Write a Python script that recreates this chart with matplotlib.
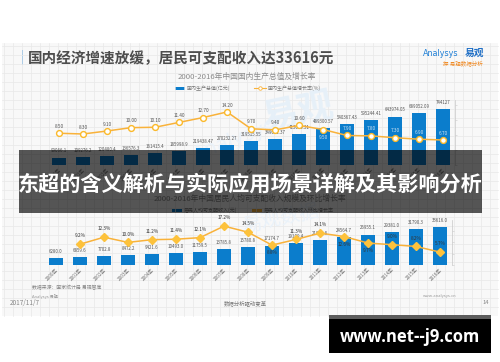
import matplotlib.pyplot as plt
from matplotlib.patches import Rectangle
import numpy as np

W, H = 500, 362
CJK = ['Noto Sans CJK SC', 'DejaVu Sans']
plt.rcParams['font.family'] = CJK

# data
years = [f'{y}年' for y in range(2000, 2017)]
gdp = [99066.1, 109276.2, 120480.4, 136576.3, 161415.4, 185998.9, 219438.47,
       270232.27, 319515.55, 349081.37, 413030.31, 489300.57, 540367.43,
       595244.41, 643974.05, 689052.09, 744127]
gdp_rate = [8.5, 8.3, 9.1, 10.0, 10.1, 11.4, 12.7, 14.2, 9.7, 9.4, 10.6,
            9.5, 7.9, 7.8, 7.3, 6.9, 6.7]
income = [6280.0, 6859.6, 7702.8, 8472.2, 9421.6, 10493.0, 11759.5, 13785.8,
          15780.8, 17174.7, 19109.4, 21809.8, 24564.7, 26955.1, 29381.0,
          31790.3, 33616.0]
income_rate = [9.2, 12.3, 10.0, 11.2, 11.4, 12.1, 17.2, 14.5, 8.8, 11.3,
               14.1, 12.6, 9.7, 9.0, 8.2, 5.7]  # 2001-2016

BLUE = '#0b7dcc'
ORANGE = '#f9b23a'

fig = plt.figure(figsize=(W / 100, H / 100), dpi=100)


def px_axes(x0, y0, x1, y1, z=1):
    ax = fig.add_axes([x0 / W, 1 - y1 / H, (x1 - x0) / W, (y1 - y0) / H], zorder=z)
    ax.patch.set_alpha(0)
    return ax


def pix_layer(z):
    ax = px_axes(0, 0, W, H, z)
    ax.set_xlim(0, W)
    ax.set_ylim(H, 0)
    ax.axis('off')
    return ax


# slide background with grid
bg = pix_layer(0)
bg.add_patch(Rectangle((2, 43), 496, 273, color='#f8f8f8', lw=0))
for gx in np.arange(4, 498, 9):
    bg.plot([gx, gx], [43, 316], color='#e8e8e8', lw=0.5)
for gy in np.arange(46, 316, 9):
    bg.plot([2, 498], [gy, gy], color='#e8e8e8', lw=0.5)

bg.add_patch(Rectangle((21.5, 50), 1.6, 15, color='#2a8ee0', lw=0))
bg.text(28, 58, '国内经济增速放缓，居民可支配收入达33616元', fontsize=10.5,
        fontweight='bold', color='#4d4d4d', va='center', ha='left')
bg.text(423, 53, 'Analysys', fontsize=5.8, color='#1f7fd6', va='center', family='DejaVu Sans')
bg.text(465, 53, '易观', fontsize=7, color='#1f6fc6', fontweight='bold', va='center')
bg.text(483, 63, '探 易观数据分析', fontsize=4, color='#f08a24', va='center', ha='right')

# faint watermarks
bg.text(258, 112, '易观', fontsize=26, color='#e6f0f9', rotation=12, va='center', fontweight='bold')
bg.text(190, 140, 'Analysys', fontsize=14, color='#eaf2fa', rotation=20, va='center',
        family='DejaVu Sans')
bg.text(240, 218, '易观数据', fontsize=14, color='#eaf2fa', rotation=12, va='center')

# chart titles and legends
bg.text(247, 77, '2000-2016年中国国内生产总值及增长率', fontsize=5.6, color='#8a8a8a',
        ha='center', va='center')
bg.add_patch(Rectangle((175, 86.5), 10, 3, color=BLUE, lw=0))
bg.text(187, 88, '国内生产总值(亿元)', fontsize=3.6, color='#777', va='center')
bg.plot([254, 266], [88, 88], color=ORANGE, lw=0.8)
bg.plot([260], [88], 'o', ms=2.5, mfc='white', mec=ORANGE, mew=0.6)
bg.text(268, 88, '国内生产总值增长率(%)', fontsize=3.6, color='#777', va='center')

bg.text(250, 199, '2000-2016年中国居民人均可支配收入规模及环比增长率', fontsize=5.6,
        color='#8a8a8a', ha='center', va='center')
bg.add_patch(Rectangle((172, 209), 10, 3, color=BLUE, lw=0))
bg.text(184, 210.5, '居民人均可支配收入(元)', fontsize=3.6, color='#777', va='center')
bg.add_patch(Rectangle((252, 209), 10, 3, color=ORANGE, lw=0))
bg.text(264, 210.5, '居民人均可支配收入环比增长率', fontsize=3.6, color='#777', va='center')

# footer
bg.text(32, 288, '数据来源：国家统计局 易观智库', fontsize=3.5, color='#888', va='center')
bg.text(32, 297, 'Analysys 易观', fontsize=3, color='#999', va='center')
bg.text(10, 303, '2017/11/7', fontsize=4.6, color='#888', va='center')
bg.text(245, 303, '数据分析驱动变革', fontsize=3.9, color='#777', va='center', ha='center')
bg.text(457, 296, 'www.analysys.cn', fontsize=3, color='#999', va='center', ha='right')
bg.text(482, 303, '14', fontsize=4.2, color='#888', va='center')


def style_axes(ax, axr):
    for s in ax.spines.values():
        s.set_visible(False)
    for s in ['top', 'left', 'bottom']:
        axr.spines[s].set_visible(False)
    axr.spines['right'].set_color('#c8c8c8')
    axr.spines['right'].set_linewidth(0.5)
    axr.tick_params(axis='y', length=1.5, width=0.4, color='#c8c8c8', labelright=False)
    ax.tick_params(axis='y', left=False, labelleft=False)
    ax.tick_params(axis='x', length=0, pad=1.5, labelsize=3.3, labelcolor='#707070')
    ax.set_xticks(range(len(years)))
    ax.set_xticklabels(years, rotation=45, ha='right', rotation_mode='anchor')
    ax.set_xlim(-0.5, len(years) - 0.5)


# top chart: GDP
x = np.arange(len(years))
ax1 = px_axes(47, 100, 455, 165, 2)
ax1.bar(x, gdp, width=0.56, color=BLUE, lw=0)
ax1.set_ylim(0, 864000)
ax1r = ax1.twinx()
ax1r.patch.set_alpha(0)
ax1r.plot(x, gdp_rate, color=ORANGE, lw=1.1, marker='o', ms=4.2, mfc='white',
          mec='#fbb92a', mew=1.0)
ax1r.set_ylim(0, 17.4)
ax1r.set_yticks([0, 4, 8, 12, 16])
style_axes(ax1, ax1r)
for i, v in enumerate(gdp):
    ax1.annotate(str(v), (i, v), xytext=(0, 3),
                 textcoords='offset points', ha='center', va='bottom',
                 fontsize=3.2, color='#555')
for i, v in enumerate(gdp_rate):
    below = i == 11
    ax1r.annotate(f'{v:.2f}', (i, v), xytext=(0, -6 if below else 5),
                  textcoords='offset points', ha='center', va='center',
                  fontsize=3.4, color='#cfe3f2' if i >= 11 else '#555')

# bottom chart: disposable income
ax2 = px_axes(44, 220, 452, 265, 2)
ax2.bar(x, income, width=0.56, color=BLUE, lw=0)
ax2.set_ylim(0, 39800)
ax2r = ax2.twinx()
ax2r.patch.set_alpha(0)
ax2r.plot(x[1:], income_rate, color=ORANGE, lw=1.1, marker='D', ms=3.6,
          mfc='#fdc23c', mec='#fdc23c')
ax2r.set_ylim(0, 19.9)
ax2r.set_yticks([0, 5, 10, 15])
style_axes(ax2, ax2r)
for i, v in enumerate(income):
    ax2.annotate(f'{v:.1f}', (i, v), xytext=(0, 3),
                 textcoords='offset points', ha='center', va='bottom',
                 fontsize=3.2, color='#555')
below_bot = {9, 12, 13}
for i, v in zip(x[1:], income_rate):
    below = i in below_bot
    ax2r.annotate(f'{v:.1f}%', (i, v), xytext=(0, -5.5 if below else 6),
                  textcoords='offset points', ha='center', va='center',
                  fontsize=3.4, color='#333')

# overlays
ov = pix_layer(10)
ov.add_patch(Rectangle((19, 150), 463, 63, color='black', alpha=0.66, lw=0))
ov.text(250, 184, '东超的含义解析与实际应用场景详解及其影响分析', fontsize=15.2,
        fontweight='bold', color='white', ha='center', va='center')
ov.add_patch(Rectangle((329, 315), 162, 4, color='#5c5c5c', lw=0))
ov.add_patch(Rectangle((329, 319), 162, 34, color='black', lw=0))
ov.text(410, 337, 'www.net--j9.com', fontsize=12, fontweight='bold', color='white',
        ha='center', va='center', family='Open Sans')

fig.savefig('out.png', dpi=100)
